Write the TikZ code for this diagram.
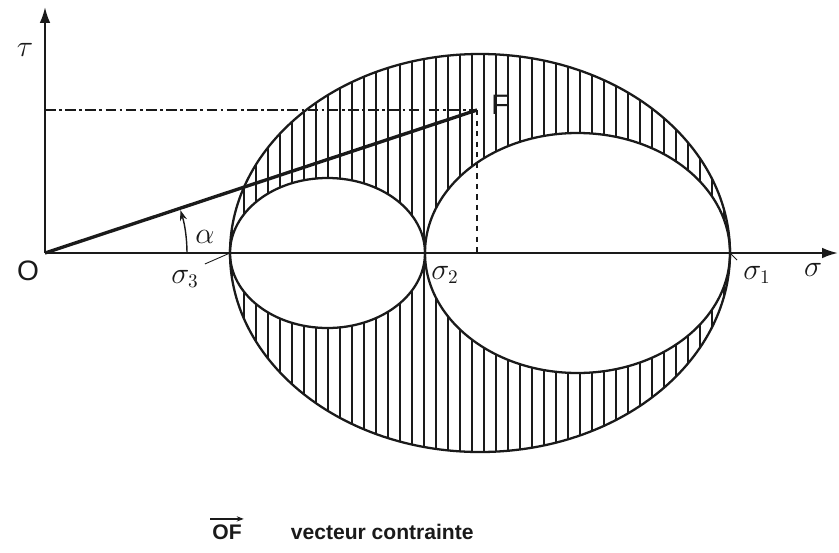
\documentclass[tikz,border=0pt]{standalone}
\usepackage{fontspec}
\setmainfont{Liberation Sans}
\usetikzlibrary{positioning,calc,arrows.meta}
\definecolor{CInk}{HTML}{1A1A1A}

\begin{document}
\begin{tikzpicture}[x=0.02cm, y=0.02cm, every node/.style={align=center, text=CInk},
  axisline/.style={CInk, line width=1.2pt, -{Latex[length=9pt,width=6pt]}},
  mohr/.style={CInk, line width=1.3pt},
  hatch/.style={CInk, line width=0.9pt},
  lbl/.style={font=\fontsize{16}{16}\selectfont},
  capt/.style={font=\fontsize{12}{14}\selectfont\bfseries, inner sep=1pt}]
  \useasboundingbox (-45,-299) rectangle (794,253);
  % points on the axes
  \coordinate (O)  at (0,0);
  \coordinate (S3) at (185,0);
  \coordinate (S2) at (380,0);
  \coordinate (S1) at (685,0);
  \coordinate (F)  at (432,143);
  \coordinate (Fs) at (432,0);
  \coordinate (Ft) at (0,143);
  \coordinate (TauEnd) at (0,246);
  \coordinate (SigEnd) at (793,0);
  % hatched zone between the circles
  \begin{scope}[even odd rule]
    \clip (435,0) ellipse [x radius=250, y radius=199]
          (282.5,0) ellipse [x radius=97.5, y radius=75]
          (532.5,0) ellipse [x radius=152.5, y radius=120];
    \foreach \hx in {187,199,...,690}
      \draw[hatch] (\hx,-210) -- (\hx,210);
  \end{scope}
  \draw[mohr] (435,0) ellipse [x radius=250, y radius=199];
  \draw[mohr] (282.5,0) ellipse [x radius=97.5, y radius=75];
  \draw[mohr] (532.5,0) ellipse [x radius=152.5, y radius=120];
  % axes
  \draw[axisline] (O) -- (TauEnd);
  \draw[axisline] (O) -- (SigEnd);
  % projections of F
  \draw[CInk, line width=0.6pt, dash pattern=on 6pt off 2pt on 1.5pt off 2pt] (Ft) -- (F);
  \draw[CInk, line width=0.6pt, dashed] (F) -- (Fs);
  % stress vector
  \draw[CInk, line width=1.9pt] (O) -- (F);
  \draw[CInk, line width=0.8pt, -{Stealth[length=6pt,width=4pt]}] (142,0) arc[start angle=0, end angle=17.6, radius=142];
  % labels
  \node[lbl] (tau) at (-20,203) {$\tau$};
  \node[lbl] (o)   at (-17,-18) {O};
  \node[lbl] (f)   at (455,148) {F};
  \node[lbl] (al)  at (160,16)  {$\alpha$};
  \node[lbl] (s3)  at (140,-26) {$\sigma_3$};
  \node[lbl] (s2)  at (400,-22) {$\sigma_2$};
  \node[lbl] (s1)  at (712,-22) {$\sigma_1$};
  \node[lbl] (sig) at (768,-17) {$\sigma$};
  \draw[CInk, line width=0.5pt] (S3) -- (s3.north east);
  \draw[CInk, line width=0.5pt] (S2) -- (s2.north west);
  \draw[CInk, line width=0.5pt] (S1) -- (s1.north west);
  % caption
  \node[capt] (of) at (182,-279) {OF};
  \node[capt, right=0.9cm of of] (cap) {vecteur contrainte};
  \draw[CInk, line width=0.8pt, -{Stealth[length=4pt,width=3pt]}]
    ([yshift=2pt]of.north west) -- ([yshift=2pt]of.north east);
\end{tikzpicture}
\end{document}
